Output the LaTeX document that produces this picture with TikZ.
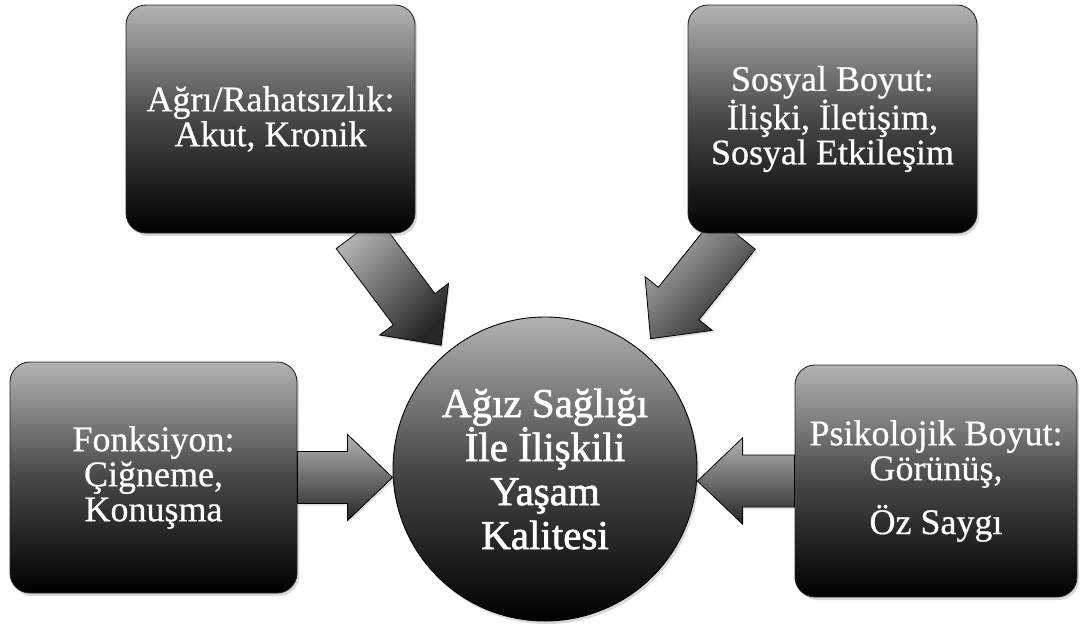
\documentclass[tikz,border=0pt]{standalone}
\usepackage{fontspec}
\setmainfont{Liberation Serif}[FakeBold=0.6]
\newfontfamily\hubfont{Liberation Serif}[FakeBold=1.6]
\usetikzlibrary{calc,shadows}
\tikzset{
  boxnode/.style={draw=black!85, line width=0.9pt, rounded corners=20pt,
    top color=black!30, bottom color=black, middle color=black!72,
    drop shadow={shadow xshift=2pt, shadow yshift=-3pt, opacity=0.3},
    text=white, align=center, inner sep=0pt,
    font=\fontsize{36}{35}\selectfont},
  hubnode/.style={circle, draw=black, line width=0.9pt, minimum size=304pt,
    top color=black!30, bottom color=black, middle color=black!72,
    drop shadow={shadow xshift=2pt, shadow yshift=-3pt, opacity=0.3},
    text=white, align=center, inner sep=0pt,
    font=\hubfont\fontsize{41}{44}\selectfont},
  arrowfill/.style={draw=black, line width=0.8pt, top color=black!30, bottom color=black!85,
    drop shadow={shadow xshift=1.5pt, shadow yshift=-2pt, opacity=0.25}},
}
% block arrow from start coordinate #2 to tip coordinate #3
\newcommand\blockarr[3]{%
  \coordinate (ba-h) at ($(#3)!45pt!(#2)$);
  \path[arrowfill,#1] ($(#2)!26pt!90:(#3)$) -- ($(ba-h)!26pt!90:(#3)$)
    -- ($(ba-h)!43pt!90:(#3)$) -- (#3) -- ($(ba-h)!43pt!-90:(#3)$)
    -- ($(ba-h)!26pt!-90:(#3)$) -- ($(#2)!26pt!-90:(#3)$) -- cycle;
}
\begin{document}
\begin{tikzpicture}[x=1pt,y=-1pt]
\useasboundingbox (0,0) rectangle (1081,624);
% hub
\node[hubnode] (hub) at (545,469) {Ağız Sağlığı\\İle İlişkili\\Yaşam\\Kalitesi};
% coordinates for arrows (drawn behind boxes)
\path (270.5,119) coordinate (agriC) (832.5,119) coordinate (sosC);
\coordinate (s1) at (357,233);
\coordinate (t1) at ($(hub.center)!1.06!(hub.130)$);
\coordinate (s2) at (735,233);
\coordinate (t2) at ($(hub.center)!1.1!(hub.51)$);
\blockarr{shading angle=45}{s1}{t1}
\blockarr{shading angle=45}{s2}{t2}
% boxes
\node[boxnode, minimum width=289pt, minimum height=228pt] (agri) at (agriC)
  {Ağrı/Rahatsızlık:\\Akut, Kronik};
\node[boxnode, minimum width=289pt, minimum height=228pt] (sos) at (sosC)
  {\rule{0pt}{8pt}Sosyal Boyut:\\İlişki, İletişim,\\Sosyal Etkileşim};
\node[boxnode, minimum width=287pt, minimum height=231pt] (fonk) at (153.5,477.5)
  {Fonksiyon:\\Çiğneme,\\Konuşma};
\node[boxnode, minimum width=282pt, minimum height=232pt] (psi) at (936,481)
  {\rule{0pt}{10pt}Psikolojik Boyut:\\Görünüş,\\[16pt]Öz Saygı};
% horizontal arrows
\coordinate (t3) at (fonk.east -| hub.west);
\coordinate (t4) at (psi.west -| hub.east);
\blockarr{}{fonk.east}{t3}
\blockarr{}{psi.west}{t4}
\end{tikzpicture}
\end{document}
